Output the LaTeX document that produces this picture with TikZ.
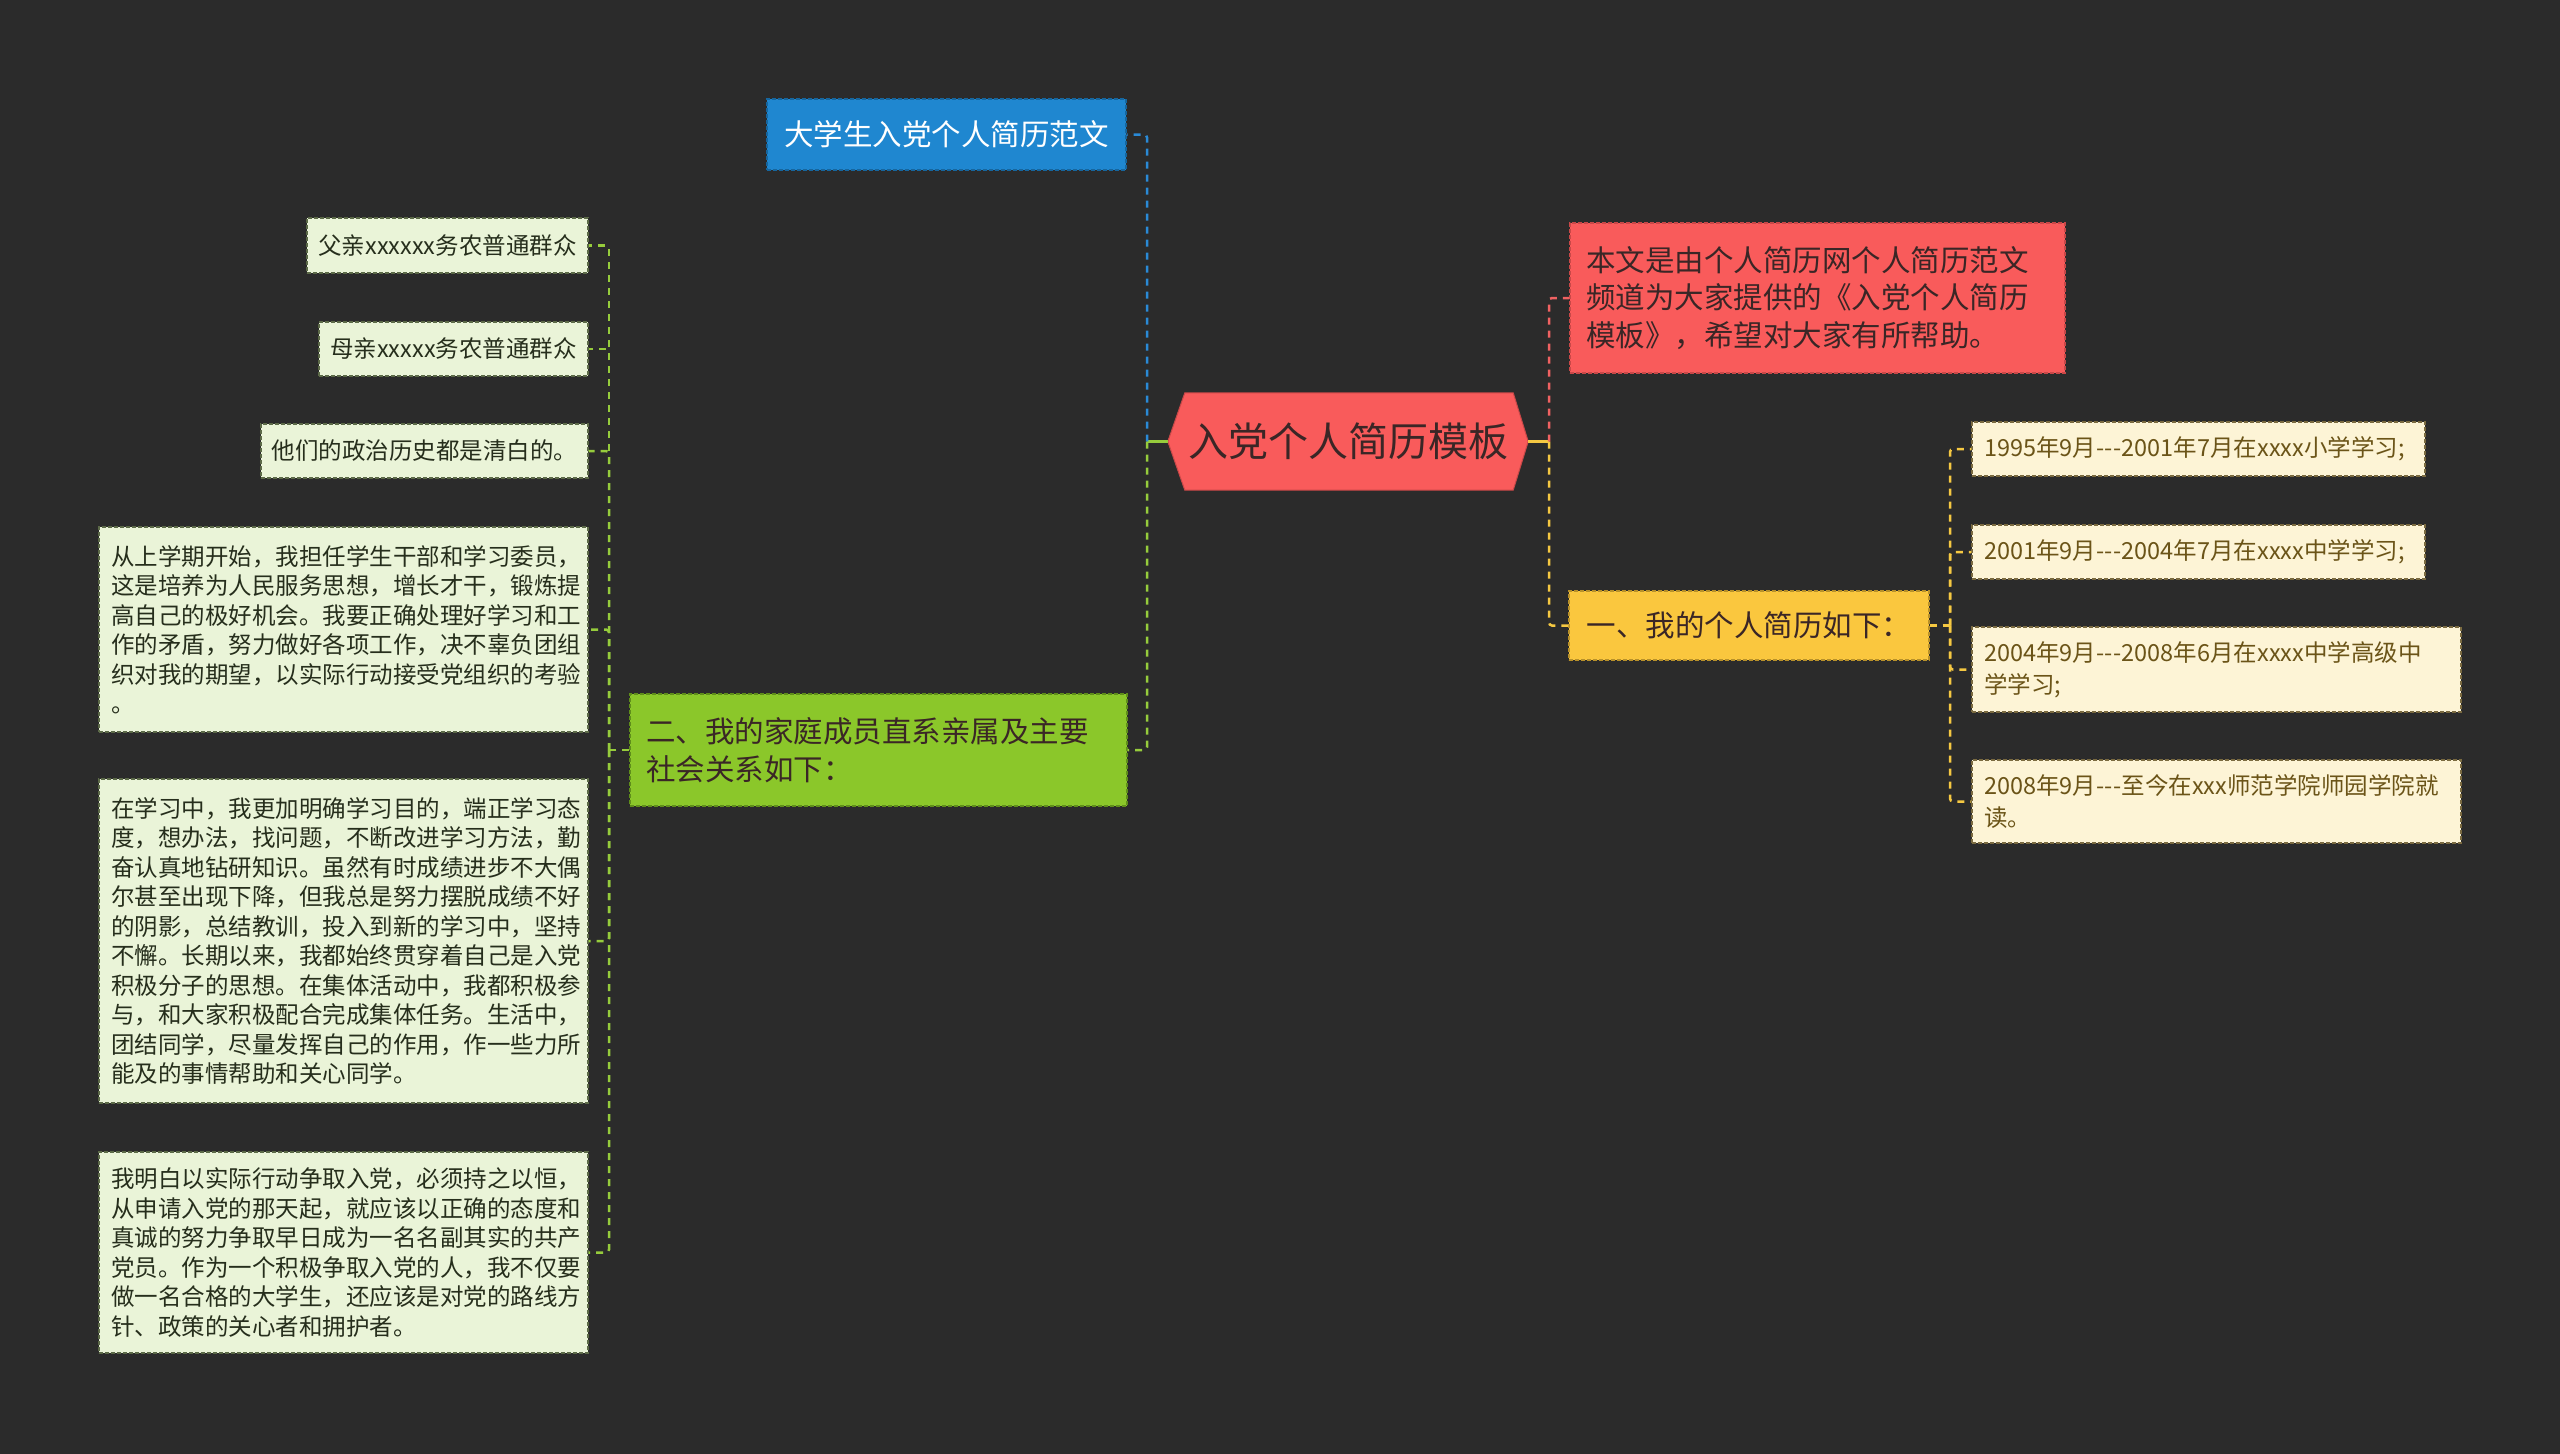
\documentclass[tikz,border=0pt]{standalone}
\usepackage{fontspec}
\setmainfont{Noto Sans CJK SC}
\usetikzlibrary{backgrounds}
\definecolor{bg}{HTML}{2B2B2B}
\definecolor{cred}{HTML}{F95B5B}
\definecolor{credb}{HTML}{C94848}
\definecolor{cblue}{HTML}{1F87D0}
\definecolor{cblueb}{HTML}{16669E}
\definecolor{cgreen}{HTML}{8BC72A}
\definecolor{cgreenb}{HTML}{5F8E1A}
\definecolor{cyellow}{HTML}{FAC73E}
\definecolor{cyellowb}{HTML}{B8912A}
\definecolor{leafg}{HTML}{EAF4D8}
\definecolor{leafgb}{HTML}{5C6A48}
\definecolor{leafy}{HTML}{FDF4D6}
\definecolor{leafyb}{HTML}{7A6A40}
\definecolor{txtdark}{HTML}{3A2626}
\definecolor{leaftxt}{HTML}{262E1C}
\definecolor{txtbrown}{HTML}{6B5418}
\definecolor{lblue}{HTML}{2A8AD6}
\definecolor{lgreen}{HTML}{96CC3C}
\definecolor{lred}{HTML}{F06262}
\definecolor{lyellow}{HTML}{F5C842}
\newcommand{\tdash}{-\kern0.5pt-\kern0.5pt-}
\begin{document}
\begin{tikzpicture}[x=1pt,y=-1pt,
  box/.style={inner sep=0pt, dash pattern=on 4pt off 2pt, line width=1.2pt},
  branch/.style={box, font=\fontsize{29.5}{37.5}\selectfont},
  leafL/.style={box, fill=leafg, draw=leafgb, text=leaftxt, font=\fontsize{23.5}{29.5}\selectfont},
  leafR/.style={box, fill=leafy, draw=leafyb, text=txtbrown, font=\fontsize{23.5}{31.5}\selectfont},
  link/.style={line width=2.5pt, dash pattern=on 7pt off 6pt, rounded corners=3pt},
  stub/.style={line width=2.5pt}
]
\useasboundingbox (0,0) rectangle (2560,1454);

% central node
\node (c) [minimum width=360pt, minimum height=97pt, inner sep=0pt, text=txtdark,
  font=\fontsize{40}{48}\selectfont] at (1348,441.5) {入党个人简历模板};
\begin{scope}[on background layer]
  \fill[bg] (0,0) rectangle (2560,1454);
  \draw[fill=cred, draw=credb, line width=1pt] (c.west) -- ([xshift=17pt]c.north west) -- ([xshift=-15pt]c.north east)
    -- (c.east) -- ([xshift=-15pt]c.south east) -- ([xshift=17pt]c.south west) -- cycle;
\end{scope}

% main branches
\node (blue) [branch, fill=cblue, draw=cblueb, text=white, minimum width=359pt, minimum height=71pt]
  at (946.5,134.5) {大学生入党个人简历范文};
\node (red) [branch, fill=cred, draw=credb, text=txtdark, minimum width=495pt, minimum height=150pt,
  text width=463pt, align=left] at (1817.5,298)
  {本文是由个人简历网个人简历范文\\频道为大家提供的《入党个人简历\\模板》，希望对大家有所帮助。};
\node (yel) [branch, fill=cyellow, draw=cyellowb, text=txtdark, minimum width=360pt, minimum height=69pt]
  at (1749,625.5) {一、我的个人简历如下：};
\node (grn) [branch, fill=cgreen, draw=cgreenb, text=txtdark, minimum width=497pt, minimum height=112pt,
  text width=465pt, align=left] at (878.5,750)
  {二、我的家庭成员直系亲属及主要\\社会关系如下：};

% right leaves
\node (t1) [leafR, minimum width=453pt, minimum height=54pt, text width=429pt, align=left]
  at (2198.5,449) {1995年9月\tdash{}2001年7月在xxxx小学学习;};
\node (t2) [leafR, minimum width=453pt, minimum height=54pt, text width=429pt, align=left]
  at (2198.5,552) {2001年9月\tdash{}2004年7月在xxxx中学学习;};
\node (t3) [leafR, minimum width=489pt, minimum height=85pt, text width=465pt, align=left]
  at (2216.5,669.5) {2004年9月\tdash{}2008年6月在xxxx中学高级中\\学学习;};
\node (t4) [leafR, minimum width=489pt, minimum height=83pt, text width=465pt, align=left]
  at (2216.5,801.5) {2008年9月\tdash{}至今在xxx师范学院师园学院就\\读。};

% left leaves
\node (l1) [leafL, minimum width=281pt, minimum height=55pt] at (447.5,245.5) {父亲xxxxxx务农普通群众};
\node (l2) [leafL, minimum width=269pt, minimum height=54pt] at (453.5,349) {母亲xxxxx务农普通群众};
\node (l3) [leafL, minimum width=327pt, minimum height=54pt] at (424.5,451) {他们的政治历史都是清白的。};
\node (l4) [leafL, minimum width=489pt, minimum height=205pt, text width=465pt, align=left] at (343.5,629.5)
  {从上学期开始，我担任学生干部和学习委员，\\这是培养为人民服务思想，增长才干，锻炼提\\高自己的极好机会。我要正确处理好学习和工\\作的矛盾，努力做好各项工作，决不辜负团组\\织对我的期望，以实际行动接受党组织的考验\\。};
\node (l5) [leafL, minimum width=489pt, minimum height=324pt, text width=465pt, align=left] at (343.5,941)
  {在学习中，我更加明确学习目的，端正学习态\\度，想办法，找问题，不断改进学习方法，勤\\奋认真地钻研知识。虽然有时成绩进步不大偶\\尔甚至出现下降，但我总是努力摆脱成绩不好\\的阴影，总结教训，投入到新的学习中，坚持\\不懈。长期以来，我都始终贯穿着自己是入党\\积极分子的思想。在集体活动中，我都积极参\\与，和大家积极配合完成集体任务。生活中，\\团结同学，尽量发挥自己的作用，作一些力所\\能及的事情帮助和关心同学。};
\node (l6) [leafL, minimum width=489pt, minimum height=201pt, text width=465pt, align=left] at (343.5,1252.5)
  {我明白以实际行动争取入党，必须持之以恒，\\从申请入党的那天起，就应该以正确的态度和\\真诚的努力争取早日成为一名名副其实的共产\\党员。作为一个积极争取入党的人，我不仅要\\做一名合格的大学生，还应该是对党的路线方\\针、政策的关心者和拥护者。};

% junctions
\coordinate (jl) at (1147,441.5);
\coordinate (jr) at (1549,441.5);
\coordinate (jg) at (609,750);
\coordinate (jy) at (1950,625.5);

% connectors from centre
\draw[stub, lgreen] (c.west) -- (jl);
\draw[stub, lyellow] (c.east) -- (jr);
\draw[link, lblue] (jl) |- (blue.east);
\draw[link, lgreen] (jl) |- (grn.east);
\draw[link, lred] (jr) |- (red.west);
\draw[link, lyellow] (jr) |- (yel.west);

% right leaves
\draw[link, lyellow] (yel.east) -- (jy);
\foreach \n in {t1,t2,t3,t4} \draw[link, lyellow] (jy) |- (\n.west);

% left leaves
\draw[link, lgreen] (grn.west) -- (jg);
\foreach \n in {l1,l2,l3,l4,l5,l6} \draw[link, lgreen] (jg) |- (\n.east);
\end{tikzpicture}
\end{document}
